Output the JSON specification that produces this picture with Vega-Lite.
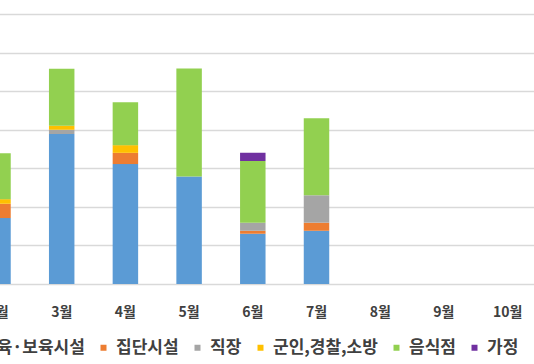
{
  "$schema": "https://vega.github.io/schema/vega-lite/v6.json",
  "autosize": {"type": "none"},
  "width": 534,
  "height": 270,
  "padding": {"top": 14, "left": 0, "right": 0, "bottom": 80},
  "background": "white",
  "config": {"view": {"stroke": null}, "font": "Noto Sans CJK KR"},
  "data": {
    "values": [
      {"month": "2월", "type": "교육·보육시설", "value": 17.1},
      {"month": "2월", "type": "집단시설", "value": 3.7},
      {"month": "2월", "type": "군인,경찰,소방", "value": 1.2},
      {"month": "2월", "type": "음식점", "value": 11.9},
      {"month": "3월", "type": "교육·보육시설", "value": 38.9},
      {"month": "3월", "type": "직장", "value": 1.1},
      {"month": "3월", "type": "군인,경찰,소방", "value": 1.0},
      {"month": "3월", "type": "음식점", "value": 14.8},
      {"month": "4월", "type": "교육·보육시설", "value": 31.1},
      {"month": "4월", "type": "집단시설", "value": 2.9},
      {"month": "4월", "type": "군인,경찰,소방", "value": 2.0},
      {"month": "4월", "type": "음식점", "value": 11.1},
      {"month": "5월", "type": "교육·보육시설", "value": 27.9},
      {"month": "5월", "type": "음식점", "value": 28.0},
      {"month": "6월", "type": "교육·보육시설", "value": 13.0},
      {"month": "6월", "type": "집단시설", "value": 0.8},
      {"month": "6월", "type": "직장", "value": 2.1},
      {"month": "6월", "type": "음식점", "value": 16.0},
      {"month": "6월", "type": "가정", "value": 2.1},
      {"month": "7월", "type": "교육·보육시설", "value": 13.8},
      {"month": "7월", "type": "집단시설", "value": 2.1},
      {"month": "7월", "type": "직장", "value": 7.1},
      {"month": "7월", "type": "음식점", "value": 20.0}
    ]
  },
  "transform": [
    {"calculate": "indexof(['교육·보육시설','집단시설','직장','군인,경찰,소방','음식점','가정'], datum.type)", "as": "ord"}
  ],
  "mark": {"type": "bar", "clip": true},
  "encoding": {
    "x": {
      "field": "month",
      "type": "ordinal",
      "scale": {
        "domain": ["2월", "3월", "4월", "5월", "6월", "7월", "8월", "9월", "10월"],
        "range": [-33.85, 539.45],
        "paddingInner": 0.6,
        "paddingOuter": 0.3
      },
      "axis": {
        "title": null,
        "domain": false,
        "ticks": false,
        "labelAngle": 0,
        "labelFontSize": 14,
        "labelFontWeight": "bold",
        "labelColor": "#404040",
        "labelPadding": 21,
        "labelOverlap": false
      }
    },
    "y": {
      "field": "value",
      "type": "quantitative",
      "aggregate": "sum",
      "stack": "zero",
      "scale": {"domain": [0, 70], "nice": false},
      "axis": {
        "title": null,
        "labels": false,
        "ticks": false,
        "domain": false,
        "values": [0, 10, 20, 30, 40, 50, 60, 70],
        "grid": true,
        "gridColor": "#d9d9d9",
        "gridWidth": 1.3
      }
    },
    "color": {
      "field": "type",
      "type": "nominal",
      "scale": {
        "domain": ["교육·보육시설", "집단시설", "직장", "군인,경찰,소방", "음식점", "가정"],
        "range": ["#5B9BD5", "#ED7D31", "#A5A5A5", "#FFC000", "#92D050", "#7030A0"]
      },
      "legend": {
        "title": null,
        "orient": "none",
        "direction": "horizontal",
        "legendX": -40,
        "legendY": 325,
        "symbolType": "square",
        "symbolSize": 36,
        "symbolStrokeWidth": 0,
        "labelFontSize": 17,
        "labelFontWeight": "bold",
        "labelColor": "#404040",
        "labelOffset": 4,
        "columnPadding": 10,
        "labelLimit": 300
      }
    },
    "order": {"field": "ord", "type": "quantitative", "aggregate": "min"}
  }
}
